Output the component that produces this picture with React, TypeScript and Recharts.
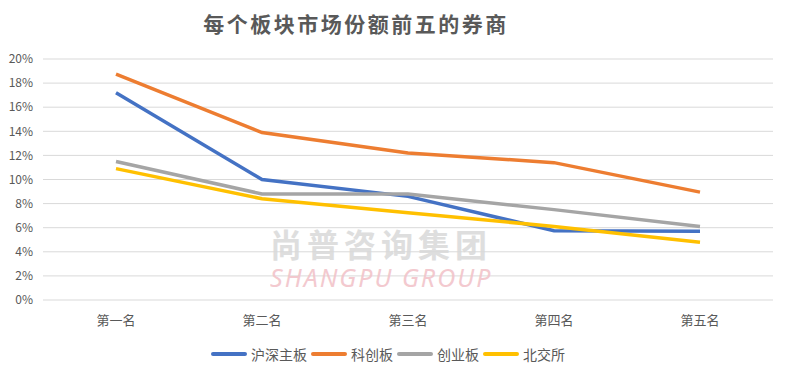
import React from 'react';
import { LineChart, Line, XAxis, YAxis, CartesianGrid } from 'recharts';

const categories = ['第一名', '第二名', '第三名', '第四名', '第五名'];
const huShen = [17.2, 10.0, 8.6, 5.75, 5.7];
const keChuang = [18.75, 13.9, 12.2, 11.4, 8.95];
const chuangYe = [11.5, 8.8, 8.8, 7.5, 6.1];
const beiJiao = [10.9, 8.4, 7.25, 6.1, 4.8];
const yTicks = [0, 2, 4, 6, 8, 10, 12, 14, 16, 18, 20];

const seriesDefs = [
  { key: 'huShen', name: '沪深主板', color: '#4472C4', values: huShen },
  { key: 'keChuang', name: '科创板', color: '#ED7D31', values: keChuang },
  { key: 'chuangYe', name: '创业板', color: '#A5A5A5', values: chuangYe },
  { key: 'beiJiao', name: '北交所', color: '#FFC000', values: beiJiao },
];

const data = categories.map((c, i) => {
  const row: Record<string, string | number> = { name: c };
  seriesDefs.forEach((s) => {
    row[s.key] = s.values[i];
  });
  return row;
});

const font = '"Microsoft YaHei", "Noto Sans CJK SC", sans-serif';

export default function App() {
  return (
    <div style={{ position: 'absolute', left: 0, top: 0, width: 788, height: 376, background: '#fff', fontFamily: font }}>
      <div
        style={{
          position: 'absolute',
          left: 0,
          width: 712,
          top: 8,
          textAlign: 'center',
          fontSize: 21,
          fontWeight: 'bold',
          color: '#595959',
          letterSpacing: 2.5,
          lineHeight: '30px',
        }}
      >
        每个板块市场份额前五的券商
      </div>
      <LineChart width={788} height={376} data={data} margin={{ top: 59, right: 15, bottom: 46, left: 0 }}>
        <CartesianGrid vertical={false} stroke="#d9d9d9" strokeWidth={1} />
        <XAxis
          dataKey="name"
          axisLine={false}
          tickLine={false}
          tick={{ fontSize: 13, fill: '#595959', fontFamily: font }}
          tickMargin={10}
          height={30}
          padding={{ left: 73, right: 73 }}
          interval={0}
        />
        <YAxis
          domain={[0, 20]}
          ticks={yTicks}
          tickFormatter={(v: number) => `${v}%`}
          axisLine={false}
          tickLine={false}
          tickSize={0}
          tickMargin={10}
          width={43}
          tick={{ fontSize: 12, fill: '#595959', fontFamily: font }}
          interval={0}
        />
        {seriesDefs.map((s) => (
          <Line
            key={s.key}
            type="linear"
            dataKey={s.key}
            name={s.name}
            stroke={s.color}
            strokeWidth={3.5}
            dot={false}
            activeDot={false}
            isAnimationActive={false}
          />
        ))}
      </LineChart>
      <div style={{ position: 'absolute', left: 270, top: 226, width: 226, pointerEvents: 'none' }}>
        <div style={{ fontSize: 32, fontWeight: 'bold', color: '#d9d9d9', letterSpacing: 5, lineHeight: '34px', height: 38, whiteSpace: 'nowrap', opacity: 0.85 }}>
          尚普咨询集团
        </div>
        <div style={{ fontSize: 25, fontStyle: 'italic', color: '#f2c4ca', letterSpacing: 2, lineHeight: '27px', whiteSpace: 'nowrap', fontFamily: '"Noto Sans", sans-serif', opacity: 0.9 }}>
          SHANGPU GROUP
        </div>
      </div>
      <div style={{ position: 'absolute', left: 0, width: 788, top: 344, display: 'flex', justifyContent: 'center' }}>
        <div style={{ display: 'flex', alignItems: 'center', marginLeft: -8 }}>
          {seriesDefs.map((s) => (
            <div key={s.key} style={{ display: 'flex', alignItems: 'center', marginRight: 4 }}>
              <div style={{ width: 36, height: 3.5, background: s.color, borderRadius: 2, marginRight: 4 }} />
              <span style={{ fontSize: 14, color: '#595959', lineHeight: '20px' }}>{s.name}</span>
            </div>
          ))}
        </div>
      </div>
    </div>
  );
}
